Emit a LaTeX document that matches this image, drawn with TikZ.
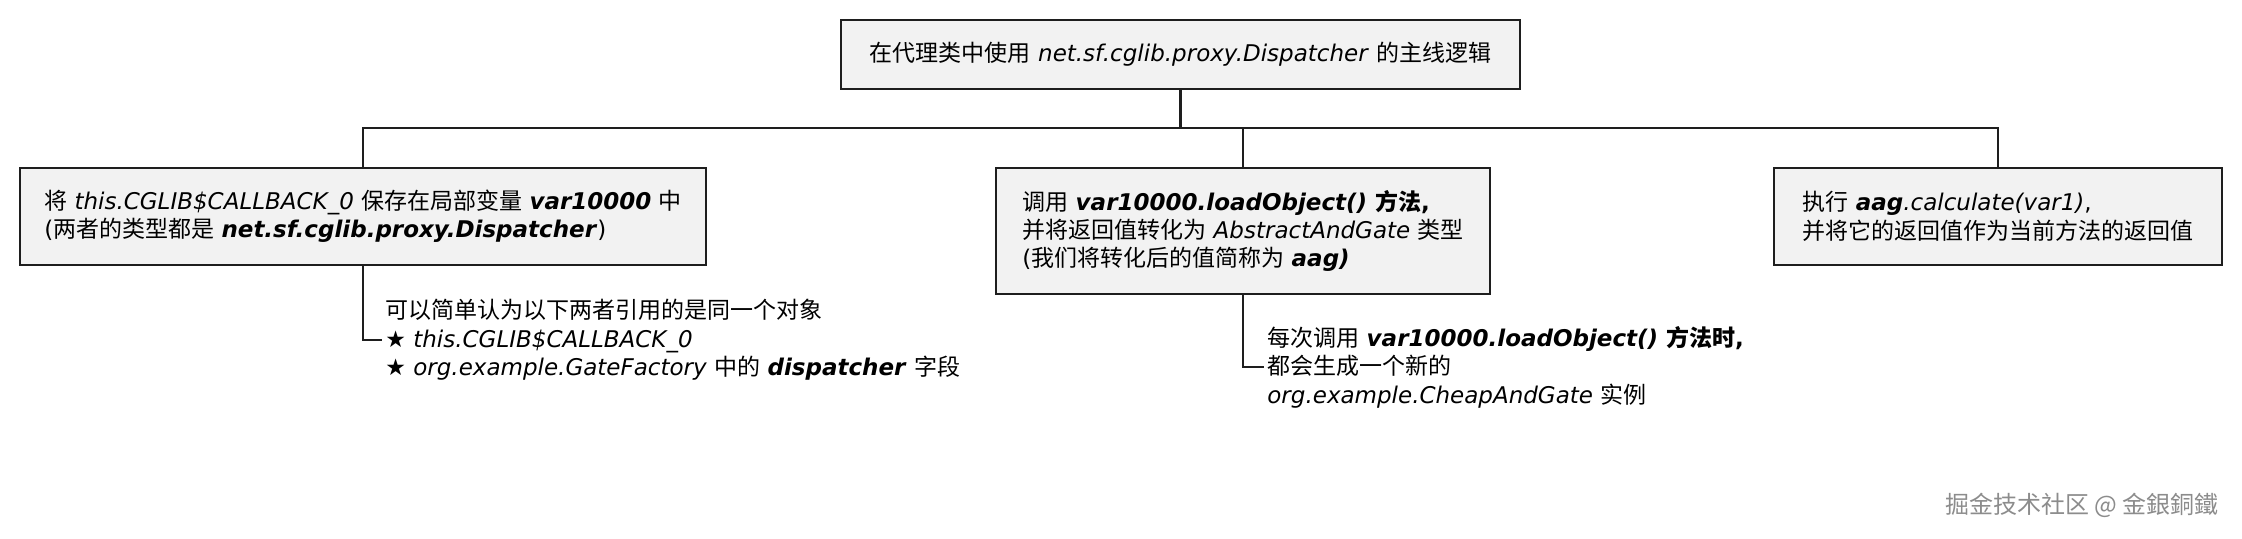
\documentclass[tikz,border=0pt]{standalone}
\usepackage{fontspec}
\setmainfont{DejaVu Sans}[BoldFont={DejaVu Sans Bold},ItalicFont={DejaVu Sans Oblique},BoldItalicFont={DejaVu Sans Bold Oblique}]
\newfontfamily\cjk{Noto Sans CJK SC}
\newcommand\zh[1]{{\cjk #1}}
\definecolor{boxfill}{HTML}{F2F2F2}
\definecolor{boxline}{HTML}{1E1E1E}

\begin{document}
\begin{tikzpicture}[x=0.5pt,y=-0.5pt,
	every node/.style={font=\fontsize{11.5}{14.2}\selectfont},
	box/.style={draw=boxline,line width=1.4pt,fill=boxfill,align=left,inner sep=0pt},
	note/.style={align=left,inner xsep=1.5pt,inner ysep=0pt,anchor=west},
	link/.style={draw=boxline,line width=1.1pt}]
			%%%%% START %%%%%
			
			\useasboundingbox (0,0) rectangle (2242,538);
			
			\node[box,minimum width=339.5pt,minimum height=34.5pt] (main) at (1180.5,54.5)
				{\zh{在代理类中使用} \textit{net.sf.cglib.proxy.Dispatcher} \zh{的主线逻辑}};
			
			\node[box,minimum width=343pt,minimum height=48.5pt] (save) at (363,216.5)
				{\zh{将} \textit{this.CGLIB\$CALLBACK\_0} \zh{保存在局部变量} \textbf{\textit{var10000}} \zh{中}\\
				(\zh{两者的类型都是} \textbf{\textit{net.sf.cglib.proxy.Dispatcher}})};
			\node[box,minimum width=247pt,minimum height=63pt] (load) at (1243,231)
				{\zh{调用} \textbf{\textit{var10000.loadObject()} \zh{方法},}\\
				\zh{并将返回值转化为} \textit{AbstractAndGate} \zh{类型}\\
				(\zh{我们将转化后的值简称为} \textbf{\textit{aag)}}};
			\node[box,minimum width=224pt,minimum height=48.5pt] (calc) at (1998,216.5)
				{\zh{执行} \textbf{\textit{aag}}\textit{.calculate(var1)},\\
				\zh{并将它的返回值作为当前方法的返回值}};
			
			\coordinate (bus) at (0,128);
			\draw[link] (main.south) -- (main.south |- bus);
			\draw[link] (save.north) -- (save.north |- bus) -- (calc.north |- bus) -- (calc.north);
			\draw[link] (load.north) -- (load.north |- bus);
			
			\node[note] (same) at (382,340)
				{\zh{可以简单认为以下两者引用的是同一个对象}\\
				★ \textit{this.CGLIB\$CALLBACK\_0}\\
				★ \textit{org.example.GateFactory} \zh{中的} \textbf{\textit{dispatcher}} \zh{字段}};
			\draw[link] (save.south) |- (same.west);
			
			\node[note] (fresh) at (1264,367)
				{\zh{每次调用} \textbf{\textit{var10000.loadObject()} \zh{方法时},}\\
				\zh{都会生成一个新的}\\
				\textit{org.example.CheapAndGate} \zh{实例}};
			\draw[link] (load.south) |- (fresh.west);
			
			\node[text=black!45,font=\fontsize{12}{14}\selectfont] (mark) at (2082,505)
				{\zh{掘金技术社区 @ 金銀銅鐵}};
			
			%%%%% END %%%%%
\end{tikzpicture}
\end{document}
